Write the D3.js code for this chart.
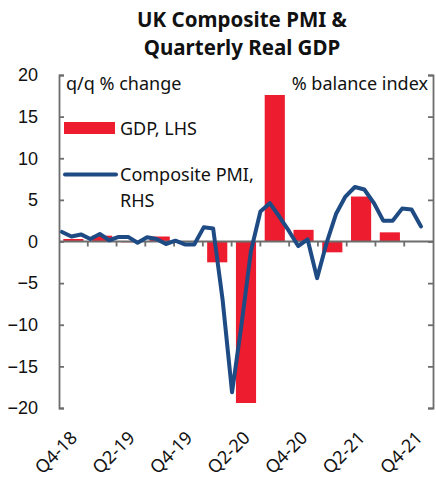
<!DOCTYPE html>
<html>
<head>
<meta charset="utf-8">
<script src="https://cdn.jsdelivr.net/npm/d3@7"></script>
<style>
    body { margin: 0; background: #fff; }
    svg { display: block; font-family: "Noto Sans", "Open Sans", sans-serif; }
    .tick-label { font-size: 18px; fill: #111; }
</style>
</head>
<body>
<svg id="svg" width="436" height="477"></svg>
<script>
const quarters = ['Q4-18', 'Q1-19', 'Q2-19', 'Q3-19', 'Q4-19', 'Q1-20', 'Q2-20', 'Q3-20', 'Q4-20', 'Q1-21', 'Q2-21', 'Q3-21', 'Q4-21']
const gdp = [0.3, 0.7, -0.1, 0.6, 0.0, -2.5, -19.4, 17.6, 1.4, -1.3, 5.4, 1.1, null]

const months = [
    'Oct-18', 'Nov-18', 'Dec-18',
    'Jan-19', 'Feb-19', 'Mar-19', 'Apr-19', 'May-19', 'Jun-19', 'Jul-19', 'Aug-19', 'Sep-19', 'Oct-19', 'Nov-19', 'Dec-19',
    'Jan-20', 'Feb-20', 'Mar-20', 'Apr-20', 'May-20', 'Jun-20', 'Jul-20', 'Aug-20', 'Sep-20', 'Oct-20', 'Nov-20', 'Dec-20',
    'Jan-21', 'Feb-21', 'Mar-21', 'Apr-21', 'May-21', 'Jun-21', 'Jul-21', 'Aug-21', 'Sep-21', 'Oct-21', 'Nov-21', 'Dec-21'
]
// composite PMI, % balance (RHS)
const pmi = [
    2.3, 1.2, 1.7,
    0.6, 1.8, 0.3, 1.1, 1.1, -0.3, 1.0, 0.6, -0.6, 0.2, -0.7, -0.7,
    3.4, 3.1, -14.0, -36.2, -20.0, -2.3, 7.2, 9.2, 6.0, 2.6, -1.1, 0.5,
    -8.8, -0.4, 6.6, 10.8, 13.1, 12.5, 9.3, 5.0, 5.0, 7.9, 7.7, 3.6
]

const leftTicks = [-20, -15, -10, -5, 0, 5, 10, 15, 20]
const rightTicks = [-40, -30, -20, -10, 0, 10, 20, 30, 40]
const xLabels = ['Q4-18', 'Q2-19', 'Q4-19', 'Q2-20', 'Q4-20', 'Q2-21', 'Q4-21']

const red = '#ed1c2e'
const blue = '#1f4b85'
const grey = '#6d6d6d'

const margin = { top: 75, right: 3, bottom: 69, left: 59 }
const width = 436
const height = 477
const svg = d3.select('#svg')

// Scales
const x = d3.scaleBand()
    .domain(quarters)
    .range([margin.left, width - margin.right])

const xm = d3.scalePoint()
    .domain(months)
    .range([margin.left + 3, width - margin.right - 12])

const y = d3.scaleLinear()
    .domain([-20, 20])
    .range([height - margin.bottom, margin.top])

const yR = d3.scaleLinear()
    .domain([-40, 40])
    .range([height - margin.bottom, margin.top])

// Title
svg.append('g')
    .selectAll('text')
    .data(['UK Composite PMI &', 'Quarterly Real GDP'])
    .join('text')
    .attr('x', 242)
    .attr('y', (d, i) => 27 + i * 28)
    .attr('text-anchor', 'middle')
    .style('font-size', '20.5px')
    .style('font-weight', 'bold')
    .style('fill', '#111')
    .text(d => d)

// Bars
const bw = x.bandwidth() * 0.7
svg.append('g')
    .selectAll('rect')
    .data(quarters.map((q, i) => ({ q, v: gdp[i] })).filter(d => d.v !== null))
    .join('rect')
    .attr('x', d => x(d.q) + (x.bandwidth() - bw) / 2)
    .attr('width', bw)
    .attr('y', d => y(Math.max(0, d.v)))
    .attr('height', d => Math.abs(y(d.v) - y(0)))
    .attr('fill', red)

// Left axis
const yAxis = svg.append('g')
    .attr('transform', `translate(${margin.left},0)`)
    .call(d3.axisLeft(y).tickValues(leftTicks).tickSizeInner(-5).tickSizeOuter(-5).tickPadding(21))
yAxis.selectAll('text').attr('class', 'tick-label').attr('fill', null)

// Right axis, no labels
const yAxisR = svg.append('g')
    .attr('transform', `translate(${width - margin.right},0)`)
    .call(d3.axisRight(yR).tickValues(rightTicks).tickSizeInner(-5).tickSizeOuter(-5).tickFormat(''))

svg.selectAll('.domain, .tick line')
    .attr('stroke', grey)
    .attr('stroke-width', 1.8)

// Zero line with quarter ticks
const zero = svg.append('g')
zero.append('line')
    .attr('x1', margin.left)
    .attr('x2', width - margin.right)
    .attr('y1', y(0))
    .attr('y2', y(0))
    .attr('stroke', grey)
    .attr('stroke-width', 2)
zero.selectAll('.qt')
    .data(quarters.slice(1))
    .join('line')
    .attr('class', 'qt')
    .attr('x1', d => x(d))
    .attr('x2', d => x(d))
    .attr('y1', y(0))
    .attr('y2', y(0) + 5)
    .attr('stroke', grey)
    .attr('stroke-width', 1.8)

// X labels
svg.append('g')
    .selectAll('text')
    .data(xLabels)
    .join('text')
    .attr('class', 'tick-label')
    .attr('text-anchor', 'end')
    .attr('transform', d => `translate(${x(d) + x.bandwidth() / 2 + 5},${height - margin.bottom + 31}) rotate(-45)`)
    .text(d => d)

// PMI line
const line = d3.line()
    .x((d, i) => xm(months[i]))
    .y(d => yR(d))

svg.append('path')
    .datum(pmi)
    .attr('d', line)
    .attr('fill', 'none')
    .attr('stroke', blue)
    .attr('stroke-width', 4)
    .attr('stroke-linejoin', 'round')
    .attr('stroke-linecap', 'round')

// Axis captions
svg.append('text')
    .attr('class', 'tick-label')
    .attr('x', margin.left + 7)
    .attr('y', 90)
    .text('q/q % change')

svg.append('text')
    .attr('class', 'tick-label')
    .attr('x', width - margin.right - 5)
    .attr('y', 90)
    .attr('text-anchor', 'end')
    .text('% balance index')

// Legend
const legend = svg.append('g')
legend.append('rect')
    .attr('x', 64)
    .attr('y', 122)
    .attr('width', 51)
    .attr('height', 12)
    .attr('fill', red)
legend.append('text')
    .attr('class', 'tick-label')
    .attr('x', 120)
    .attr('y', 135)
    .text('GDP, LHS')
legend.append('line')
    .attr('x1', 65)
    .attr('x2', 116)
    .attr('y1', 174.5)
    .attr('y2', 174.5)
    .attr('stroke', blue)
    .attr('stroke-width', 4)
    .attr('stroke-linecap', 'round')
legend.append('text')
    .attr('class', 'tick-label')
    .attr('x', 120)
    .attr('y', 181)
    .text('Composite PMI,')
legend.append('text')
    .attr('class', 'tick-label')
    .attr('x', 120)
    .attr('y', 207)
    .text('RHS')
</script>
</body>
</html>
